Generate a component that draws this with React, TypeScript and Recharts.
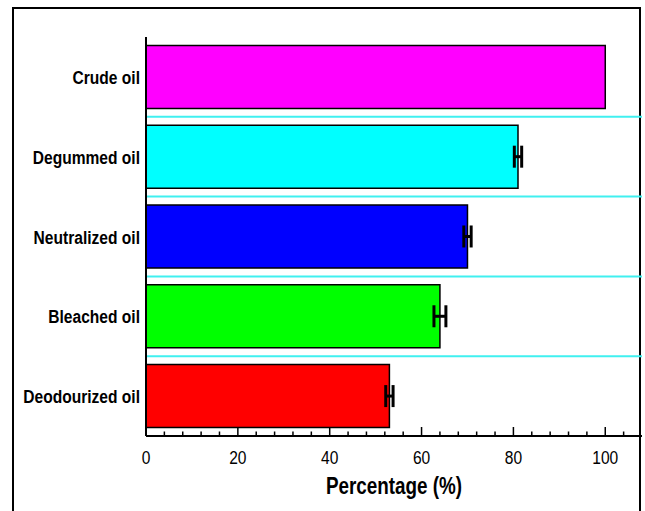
import { Bar, BarChart, CartesianGrid, Cell, ErrorBar, XAxis, YAxis } from "recharts";

const categories = ["Crude oil", "Degummed oil", "Neutralized oil", "Bleached oil", "Deodourized oil"];
const percentages = [100, 81, 70, 64, 53];
const errors = [null, 0.8, 0.8, 1.3, 0.8];
const xTicks = [0, 4, 8, 12, 16, 20, 24, 28, 32, 36, 40, 44, 48, 52, 56, 60, 64, 68, 72, 76, 80, 84, 88, 92, 96, 100, 104];

const barColors = ["#ff00ff", "#00ffff", "#0000ff", "#00ff00", "#ff0000"];
const font = "'Liberation Sans', Arial, sans-serif";
const narrow = 0.82;

const data = categories.map((name, i) => ({ name, value: percentages[i], err: errors[i] }));

function XTick(props: any) {
  const { x, y, payload } = props;
  const major = payload.value % 20 === 0;
  return (
    <g>
      <line x1={x} x2={x} y1={y} y2={y - (major ? 9 : 4.5)} stroke="#000" strokeWidth={1.5} />
      {major && (
        <text
          transform={`translate(${x},${y + 28}) scale(${narrow},1)`}
          textAnchor="middle"
          fontSize={19}
          fontFamily={font}
          fill="#000"
        >
          {payload.value}
        </text>
      )}
    </g>
  );
}

function YTick(props: any) {
  const { x, y, payload } = props;
  return (
    <text
      transform={`translate(${x},${y + 7}) scale(${narrow},1)`}
      textAnchor="end"
      fontSize={19}
      fontWeight="bold"
      fontFamily={font}
      fill="#000"
    >
      {payload.value}
    </text>
  );
}

function XTitle(props: any) {
  const { viewBox } = props;
  const cx = viewBox.x + viewBox.width / 2;
  const by = viewBox.y + viewBox.height - 17;
  return (
    <text
      transform={`translate(${cx},${by}) scale(${narrow},1)`}
      textAnchor="middle"
      fontSize={23}
      fontWeight="bold"
      fontFamily={font}
      fill="#000"
    >
      Percentage (%)
    </text>
  );
}

// lines between the category bands (equal bands over the plot height)
function bandBoundaries(props: any) {
  const { offset } = props;
  const band = offset.height / categories.length;
  return categories.slice(1).map((_, i) => offset.top + band * (i + 1));
}

export default function App() {
  return (
    <div style={{ position: "fixed", top: 0, left: 0, width: 645, height: 511, overflow: "hidden", background: "#fff" }}>
      <div
        style={{
          position: "absolute",
          left: 12,
          top: 7,
          width: 625,
          height: 600,
          border: "2px solid #000",
        }}
      />
      <div style={{ position: "absolute", left: 0, top: 0 }}>
        <BarChart
          width={645}
          height={511}
          data={data}
          layout="vertical"
          margin={{ top: 37, right: 3, bottom: 0, left: 0 }}
          barCategoryGap="10.5%"
        >
          <CartesianGrid
            vertical={false}
            stroke="#40f0f0"
            strokeWidth={2}
            horizontalCoordinatesGenerator={bandBoundaries}
          />
          <XAxis
            type="number"
            domain={[0, 108]}
            ticks={xTicks}
            interval={0}
            height={75}
            tickSize={0}
            tickMargin={0}
            tickLine={false}
            tick={<XTick />}
            axisLine={{ stroke: "#000", strokeWidth: 2 }}
            label={<XTitle />}
          />
          <YAxis
            type="category"
            dataKey="name"
            width={146}
            tickSize={0}
            tickMargin={6}
            tickLine={false}
            axisLine={{ stroke: "#000", strokeWidth: 2 }}
            tick={<YTick />}
          />
          <Bar dataKey="value" stroke="#000" strokeWidth={1.5} isAnimationActive={false}>
            {data.map((d, i) => (
              <Cell key={d.name} fill={barColors[i]} />
            ))}
            <ErrorBar dataKey="err" direction="x" width={11} stroke="#000" strokeWidth={3} isAnimationActive={false} />
          </Bar>
        </BarChart>
      </div>
    </div>
  );
}
